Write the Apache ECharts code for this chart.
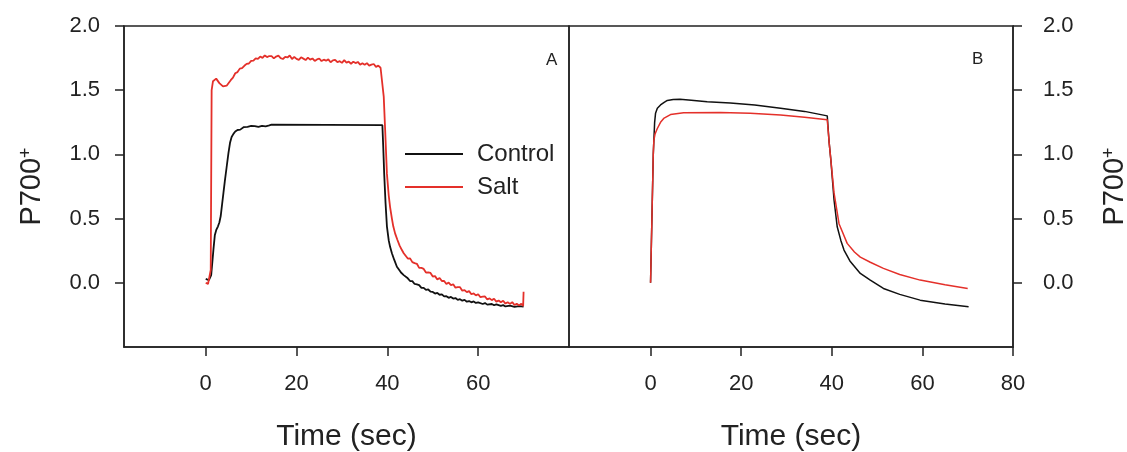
<!DOCTYPE html>
<html>
<head>
<meta charset="utf-8">
<script src="https://cdn.jsdelivr.net/npm/echarts@6/dist/echarts.min.js"></script>
<style>
html, body { margin: 0; background: #fff; }
#main { width: 1127px; height: 452px; }
</style>
</head>
<body>
<div id="main"></div>
<script>
// P700+ kinetics: [time (sec), P700+]
// panel A - control
var controlA = [
    [0, 0.03], [0.3, 0.025], [0.7, 0.02], [1.0, 0.015], [1.2, 0.06], [1.4, 0.14], [1.7, 0.26],
    [2.0, 0.37], [2.3, 0.41], [2.7, 0.44], [3.0, 0.47], [3.3, 0.52], [3.6, 0.61], [3.9, 0.70],
    [4.2, 0.79], [4.6, 0.90], [5.0, 1.01], [5.35, 1.09], [5.7, 1.135], [6.1, 1.16], [6.5, 1.178],
    [7.0, 1.19], [7.3, 1.20], [7.6, 1.193], [8.0, 1.205], [8.4, 1.213], [8.8, 1.202], [9.2, 1.215],
    [9.6, 1.21], [10, 1.222], [10.4, 1.208], [10.8, 1.22], [11.2, 1.226], [11.6, 1.214], [12, 1.228],
    [12.4, 1.222], [12.8, 1.23], [13.2, 1.218], [13.6, 1.233], [14, 1.226], [14.5, 1.232], [38.9, 1.228],
    [39.1, 1.05], [39.3, 0.85], [39.6, 0.62], [39.9, 0.44], [40.3, 0.33], [40.6, 0.28], [41.0, 0.23],
    [41.5, 0.18], [42.1, 0.125], [42.5, 0.105], [43, 0.08], [43.6, 0.06], [44, 0.045],
    [44.5, 0.035], [45, 0.014], [45.5, 0.013], [46, -0.009], [46.5, -0.012], [47, -0.018],
    [47.5, -0.039], [48, -0.039], [48.5, -0.055], [49, -0.052], [49.5, -0.069], [50, -0.071],
    [50.5, -0.084], [51, -0.079], [51.5, -0.093], [52, -0.090], [52.5, -0.106], [53, -0.104],
    [53.5, -0.117], [54, -0.110], [54.5, -0.123], [55, -0.119], [55.5, -0.133], [56, -0.128],
    [56.5, -0.139], [57, -0.133], [57.5, -0.147], [58, -0.142], [58.5, -0.152], [59, -0.145],
    [59.5, -0.157], [60, -0.153], [61, -0.165], [61.5, -0.158], [62, -0.170], [63, -0.165],
    [63.5, -0.175], [64, -0.168], [65, -0.180], [65.5, -0.174], [66, -0.184], [67, -0.178],
    [68, -0.187], [69, -0.181], [70, -0.185]
];
// panel A - salt
var saltA = [
    [0, 0.00], [0.5, -0.01], [0.9, -0.02], [1.1, 0.10], [1.3, 1.50], [1.6, 1.57], [2.0, 1.585],
    [2.3, 1.59], [2.6, 1.575], [3.0, 1.555], [3.4, 1.545], [3.8, 1.53], [4.2, 1.515], [4.6, 1.535],
    [5.0, 1.55], [5.5, 1.578], [6.0, 1.598], [6.5, 1.632], [7.0, 1.641], [7.5, 1.668], [8.0, 1.672],
    [8.5, 1.690], [9.0, 1.705], [9.5, 1.708], [10, 1.728], [10.5, 1.731], [11, 1.748], [11.5, 1.744],
    [12, 1.762], [12.5, 1.752], [13, 1.771], [13.5, 1.758], [14, 1.766],
    [14.5, 1.765], [15, 1.748], [15.5, 1.762], [16, 1.769], [16.5, 1.750], [17, 1.743], [17.5, 1.760],
    [18, 1.755], [18.5, 1.770], [19, 1.743], [19.5, 1.759], [20, 1.744], [20.5, 1.736], [21, 1.756],
    [21.5, 1.746], [22, 1.735], [22.5, 1.754], [23, 1.738], [23.5, 1.747], [24, 1.728], [24.5, 1.740],
    [25, 1.747], [25.5, 1.727], [26, 1.738], [26.5, 1.730], [27, 1.740], [27.5, 1.718], [28, 1.732],
    [28.5, 1.737], [29, 1.718], [29.5, 1.726], [30, 1.713], [30.5, 1.734], [31, 1.715], [31.5, 1.723],
    [32, 1.706], [32.5, 1.722], [33, 1.711], [33.5, 1.720], [34, 1.699], [34.5, 1.710], [35, 1.698],
    [35.5, 1.711], [36, 1.691], [36.5, 1.699], [37, 1.704], [37.5, 1.682], [38, 1.691], [38.5, 1.675],
    [38.9, 1.678],
    [39.2, 1.45], [39.5, 1.20], [39.9, 0.85], [40.3, 0.68], [40.6, 0.59], [41.0, 0.50], [41.3, 0.44],
    [41.7, 0.385], [42.2, 0.335], [42.7, 0.29], [43.2, 0.255], [43.6, 0.23],
    [44, 0.221], [44.5, 0.189], [45, 0.190], [45.5, 0.161], [46, 0.153], [46.5, 0.148], [47, 0.116],
    [47.5, 0.116], [48, 0.108], [48.5, 0.080], [49, 0.082], [49.5, 0.077], [50, 0.049], [50.5, 0.052],
    [51, 0.026], [51.5, 0.038], [52, 0.014], [52.5, 0.014], [53, -0.010], [53.5, 0.002], [54, -0.018],
    [54.5, -0.012], [55, -0.038], [55.5, -0.033], [56, -0.034], [56.5, -0.061], [57, -0.057],
    [57.5, -0.073], [58, -0.065], [58.5, -0.089], [59, -0.083], [59.5, -0.098], [60, -0.089],
    [60.5, -0.112], [61, -0.108], [61.5, -0.106], [62, -0.130], [62.5, -0.121], [63, -0.135],
    [63.5, -0.124], [64, -0.147], [64.5, -0.138], [65, -0.152], [65.5, -0.140], [66, -0.162],
    [66.5, -0.151], [67, -0.164], [67.5, -0.151], [68, -0.173], [68.5, -0.163], [69, -0.176],
    [69.5, -0.163], [69.9, -0.180], [70, -0.07]
];
// panel B - control
var controlB = [
    [0, 0.0], [0.3, 0.5], [0.6, 1.0], [0.9, 1.25], [1.1, 1.32], [1.5, 1.36], [2.2, 1.385],
    [3.0, 1.405], [3.7, 1.42], [5, 1.428], [6.5, 1.43], [9, 1.422], [12.5, 1.41], [17.6, 1.40],
    [23, 1.385], [28.7, 1.36], [34, 1.335], [39.0, 1.30], [39.4, 1.10], [39.8, 0.955], [40.5, 0.645],
    [41.2, 0.436], [42, 0.33], [42.7, 0.255], [44, 0.17], [46.3, 0.073], [48.5, 0.02], [51.4, -0.044],
    [55, -0.09], [59.5, -0.135], [65, -0.165], [70.2, -0.187]
];
// panel B - salt
var saltB = [
    [0, 0.0], [0.3, 0.5], [0.6, 1.0], [0.73, 1.11], [1.0, 1.16], [1.47, 1.20], [2.2, 1.25],
    [2.9, 1.28], [4.4, 1.31], [7.3, 1.325], [15.4, 1.327], [22, 1.32], [28.7, 1.306], [34, 1.29],
    [39.0, 1.27], [39.4, 1.10], [39.8, 0.955], [40.5, 0.70], [41.6, 0.46], [43.4, 0.307], [45, 0.24],
    [46.3, 0.20], [48.5, 0.16], [51.4, 0.112], [55, 0.065], [59.5, 0.021], [65, -0.015], [70, -0.045]
];

var seriesNames = ['Control', 'Salt'];
var xTicksA = [0, 20, 40, 60];
var xTicksB = [0, 20, 40, 60, 80];
var yTicks = [0, 0.5, 1.0, 1.5, 2.0];

var FONT = 'Liberation Sans, Arial, sans-serif';
var INK = '#222';
var RED = '#e4302a';

function xAxisFor(idx, ticks) {
    return {
        type: 'value', gridIndex: idx, min: -18, max: 80,
        axisLine: { show: true, onZero: false, lineStyle: { color: INK, width: 1.5 } },
        axisTick: { show: true, customValues: ticks, length: 9, lineStyle: { color: INK, width: 1.5 } },
        axisLabel: { customValues: ticks, margin: 26, fontSize: 22, color: INK, fontFamily: FONT },
        splitLine: { show: false },
        name: 'Time (sec)', nameLocation: 'middle', nameGap: 75,
        nameTextStyle: { fontSize: 30, color: INK, fontFamily: FONT }
    };
}

function yAxisFor(idx, pos, margin, gap) {
    return {
        type: 'value', gridIndex: idx, position: pos, min: -0.5, max: 2,
        axisLine: { show: true, onZero: false, lineStyle: { color: INK, width: 1.5 } },
        axisTick: { show: true, customValues: yTicks, length: 9, lineStyle: { color: INK, width: 1.5 } },
        axisLabel: {
            customValues: yTicks, margin: margin, fontSize: 22, color: INK, fontFamily: FONT,
            formatter: function (v) { return v.toFixed(1); }
        },
        splitLine: { show: false },
        name: '{b|P700}{s|+}', nameLocation: 'middle', nameGap: gap, nameRotate: 90,
        nameTextStyle: {
            color: INK, fontFamily: FONT, fontSize: 29,
            rich: {
                b: { fontSize: 29, color: INK, fontFamily: FONT },
                s: { fontSize: 18, color: INK, fontFamily: FONT, verticalAlign: 'top' }
            }
        }
    };
}

function line(name, data, idx, color, width) {
    return {
        name: name, type: 'line', xAxisIndex: idx, yAxisIndex: idx, data: data,
        symbol: 'none', showSymbol: false, smooth: false,
        lineStyle: { color: color, width: width }, itemStyle: { color: color }
    };
}

var myChart = echarts.init(document.getElementById('main'));

var option = {
    animation: false,
    backgroundColor: '#fff',
    grid: [
        { left: 124, top: 26, width: 445, height: 321, show: true, borderColor: INK, borderWidth: 1.5,
          outerBoundsMode: 'none', containLabel: false },
        { left: 569, top: 26, width: 444, height: 321, show: true, borderColor: INK, borderWidth: 1.5,
          outerBoundsMode: 'none', containLabel: false }
    ],
    xAxis: [xAxisFor(0, xTicksA), xAxisFor(1, xTicksB)],
    yAxis: [yAxisFor(0, 'left', 24, 78), yAxisFor(1, 'right', 30, 87)],
    legend: {
        data: seriesNames, orient: 'vertical', left: 400, top: 137,
        icon: 'rect', itemWidth: 58, itemHeight: 2, itemGap: 9,
        textStyle: { fontSize: 24, color: INK, fontFamily: FONT, padding: [0, 0, 0, 9] }
    },
    graphic: [
        { type: 'text', left: 546, top: 52, style: { text: 'A', fontSize: 17, fill: INK, fontFamily: FONT } },
        { type: 'text', left: 972, top: 51, style: { text: 'B', fontSize: 17, fill: INK, fontFamily: FONT } }
    ],
    series: [
        line('Control', controlA, 0, '#111', 1.8),
        line('Salt', saltA, 0, RED, 1.8),
        line('Control', controlB, 1, '#111', 1.5),
        line('Salt', saltB, 1, RED, 1.5)
    ]
};

if (option && typeof option === 'object') {
    myChart.setOption(option, true);
}
</script>
</body>
</html>
